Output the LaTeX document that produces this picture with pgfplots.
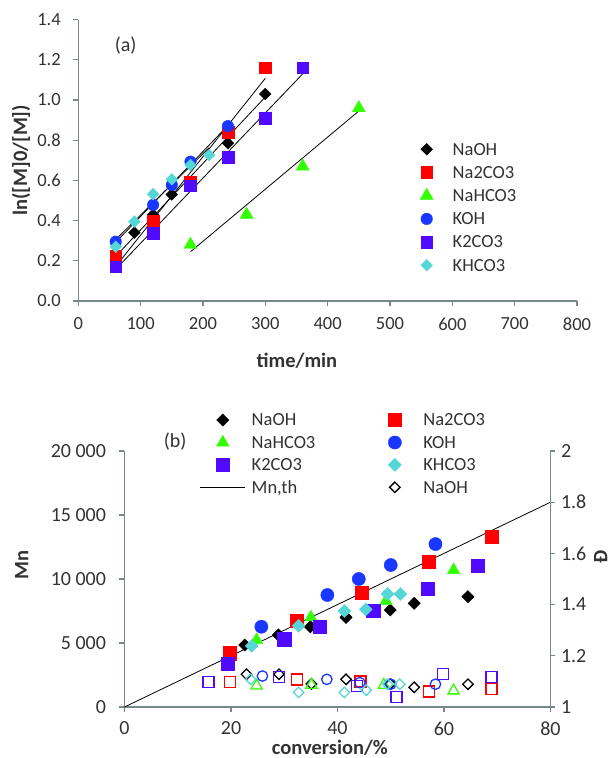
\documentclass[border=0pt]{standalone}
\usepackage{fontspec}
\setmainfont{Carlito}
\usepackage{pgfplots}
\pgfplotsset{compat=1.18}
\definecolor{axgray}{RGB}{120,135,135}
\definecolor{txt}{RGB}{50,50,50}
\definecolor{cred}{RGB}{255,0,0}
\definecolor{cgreen}{RGB}{51,255,0}
\definecolor{cblue}{RGB}{25,55,255}
\definecolor{cpurple}{RGB}{80,10,255}
\definecolor{ccyan}{RGB}{85,215,215}
\pgfplotsset{
  every axis/.append style={font=\fontsize{18.5}{22}\selectfont, /pgf/number format/assume math mode=true,
    axis line style={axgray, line width=1.2pt, -}, tick style={axgray, line width=1.2pt},
    tick align=outside, major tick length=5pt, scale only axis,
    ticklabel style={text=txt}, label style={text=txt, font=\fontsize{20.5}{24}\selectfont\bfseries}},
}
\begin{document}
\begin{tikzpicture}
\useasboundingbox (0,0) rectangle (612pt,758pt);
% ---------------- (a) ----------------
\begin{axis}[
  at={(78.3pt,457pt)}, anchor=south west, width=498.7pt, height=281.4pt,
  xmin=0, xmax=800, ymin=0, ymax=1.4,
  xtick={0,100,200,300,400,500,600,700,800},
  ytick={0,0.2,0.4,0.6,0.8,1.0,1.2,1.4},
  yticklabel style={xshift=-9pt, /pgf/number format/.cd, fixed, fixed zerofill, precision=1},
  xticklabel style={yshift=-8pt},
  axis x line*=bottom, axis y line*=left,
  xlabel={time/min}, ylabel={ln([M]0/[M])},
  xlabel style={at={(axis description cs:0.4385,-0.213)}, anchor=center},
  ylabel style={at={(axis description cs:-0.115,0.5)}, anchor=center},
  clip=false,
  legend cell align=left,
  legend image code/.code={\path[draw=none,fill=none] (0pt,-4pt) rectangle (40pt,4pt); \draw[mark repeat=2,mark phase=2] plot coordinates {(0pt,0pt) (20pt,0pt) (40pt,0pt)};},
  legend style={draw=none, fill=none, inner sep=0pt, outer sep=0pt, at={(axis description cs:0.6585,0.5675)}, anchor=north west,
    row sep=7.2pt, nodes={inner xsep=6pt, inner ysep=0pt, text height=13.8pt, text depth=2.2pt, text=txt}},
]
\addplot[only marks, mark=square*, mark size=4.14pt, mark options={rotate=45, draw=black, fill=black}] coordinates {(60,0.20) (90,0.34) (120,0.43) (150,0.53) (240,0.785) (300,1.03)};
\addlegendentry{NaOH}
\addplot[only marks, mark=square*, mark size=5.85pt, mark options={draw=cred, fill=cred}] coordinates {(60,0.225) (120,0.40) (180,0.59) (240,0.84) (300,1.16)};
\addlegendentry{Na2CO3}
\addplot[only marks, mark=triangle*, mark size=7.5pt, mark options={draw=cgreen, fill=cgreen}] coordinates {(180,0.28) (270,0.43) (360,0.67) (450,0.96)};
\addlegendentry{NaHCO3}
\addplot[only marks, mark=*, mark size=5.8pt, mark options={draw=cblue, fill=cblue}] coordinates {(60,0.295) (120,0.478) (150,0.577) (180,0.693) (240,0.87)};
\addlegendentry{KOH}
\addplot[only marks, mark=square*, mark size=5.85pt, mark options={draw=cpurple, fill=cpurple}] coordinates {(60,0.17) (120,0.337) (180,0.574) (240,0.715) (300,0.909) (360,1.16)};
\addlegendentry{K2CO3}
\addplot[only marks, mark=square*, mark size=4.14pt, mark options={rotate=45, draw=ccyan, fill=ccyan}] coordinates {(60,0.27) (90,0.395) (120,0.532) (150,0.605) (180,0.677) (210,0.726)};
\addlegendentry{KHCO3}
% trend lines
\addplot[black, line width=0.8pt, no marks, forget plot] coordinates {(60,0.222) (300,1.015)};
\addplot[black, line width=0.8pt, no marks, forget plot] coordinates {(60,0.172) (300,1.108)};
\addplot[black, line width=0.8pt, no marks, forget plot] coordinates {(180,0.245) (450,0.945)};
\addplot[black, line width=0.8pt, no marks, forget plot] coordinates {(60,0.292) (240,0.873)};
\addplot[black, line width=0.8pt, no marks, forget plot] coordinates {(60,0.158) (360,1.130)};
\addplot[black, line width=0.8pt, no marks, forget plot] coordinates {(60,0.306) (210,0.763)};
\node[text=txt, font=\fontsize{20}{24}\selectfont] at (axis cs:76,1.27) {(a)};
\end{axis}
% ---------------- (b) left ----------------
\begin{axis}[
  at={(124.5pt,51pt)}, anchor=south west, width=426pt, height=256pt,
  xmin=0, xmax=80, ymin=0, ymax=20000,
  xtick={0,20,40,60,80},
  ytick={0,5000,10000,15000,20000},
  yticklabels={0,5~000,10~000,15~000,20~000},
  scaled y ticks=false,
  ticklabel style={font=\fontsize{20}{24}\selectfont},
  xticklabel style={yshift=-6pt},
  yticklabel style={xshift=-10pt},
  axis x line*=bottom, axis y line*=left,
  xlabel={conversion/\%}, ylabel={Mn},
  xlabel style={at={(axis description cs:0.482,-0.158)}, anchor=center},
  ylabel style={at={(axis description cs:-0.241,0.555)}, anchor=center},
  clip=false,
  legend columns=2,
  legend cell align=left,
  legend image code/.code={\path[draw=none,fill=none] (0pt,-4pt) rectangle (45pt,4pt); \draw[mark repeat=2,mark phase=2] plot coordinates {(0pt,0pt) (22.5pt,0pt) (45pt,0pt)};},
  legend style={draw=none, fill=none, inner sep=0pt, outer sep=0pt, at={(axis description cs:0.177,1.152)}, anchor=north west,
    row sep=6.4pt, nodes={inner xsep=6pt, inner ysep=0pt, text height=13.8pt, text depth=2.2pt, text=txt},
    /tikz/every even column/.append style={column sep=51pt}},
]
\addplot[only marks, mark=square*, mark size=4.35pt, mark options={rotate=45, draw=black, fill=black}] coordinates {(22.6,4840) (28.9,5625) (34.9,6270) (41.6,7000) (49.9,7580) (54.4,8100) (64.5,8620)};
\addlegendentry{NaOH}
\addplot[only marks, mark=square*, mark size=6.6pt, mark options={draw=cred, fill=cred}] coordinates {(19.8,4200) (32.4,6720) (44.5,8960) (57.2,11350) (68.9,13300)};
\addlegendentry{Na2CO3}
\addplot[only marks, mark=triangle*, mark size=7.2pt, mark options={draw=cgreen, fill=cgreen}] coordinates {(24.8,5230) (35.0,7000) (49.1,8280) (61.8,10700)};
\addlegendentry{NaHCO3}
\addplot[only marks, mark=*, mark size=6.6pt, mark options={draw=cblue, fill=cblue}] coordinates {(25.7,6270) (38.1,8750) (44.0,10000) (50.0,11090) (58.4,12730)};
\addlegendentry{KOH}
\addplot[only marks, mark=square*, mark size=6.6pt, mark options={draw=cpurple, fill=cpurple}] coordinates {(19.4,3360) (30.0,5290) (36.6,6270) (46.7,7500) (56.9,9270) (66.3,11020)};
\addlegendentry{K2CO3}
\addplot[only marks, mark=square*, mark size=4.6pt, mark options={rotate=45, draw=ccyan, fill=ccyan}] coordinates {(23.9,4770) (32.7,6350) (41.3,7500) (45.3,7630) (49.4,8830) (51.8,8830)};
\addlegendentry{KHCO3}
\addplot[black, line width=0.8pt, no marks] coordinates {(0,0) (80,16000)};
\addlegendentry{Mn,th}
\addlegendimage{only marks, mark=square, mark size=3.7pt, mark options={rotate=45, draw=black, line width=1.3pt}}
\addlegendentry{NaOH}
\node[text=txt, font=\fontsize{20}{24}\selectfont] at (axis cs:9.5,20700) {(b)};
\end{axis}
% ---------------- (b) right ----------------
\begin{axis}[
  at={(124.5pt,51pt)}, anchor=south west, width=426pt, height=256pt,
  xmin=0, xmax=80, ymin=1, ymax=2,
  ytick={1,1.2,1.4,1.6,1.8,2}, yticklabels={1,1.2,1.4,1.6,1.8,2},
  ticklabel style={font=\fontsize{20}{24}\selectfont},
  yticklabel style={xshift=2pt},
  axis y line*=right, axis x line=none,
  ylabel={Đ},
  ylabel style={at={(axis description cs:1.118,0.586)}, anchor=center},
  clip=false,
]
\addplot[only marks, mark=square, mark size=3.7pt, mark options={rotate=45, draw=black, line width=1.3pt}] coordinates {(22.9,1.128) (29.0,1.128) (35.1,1.09) (41.6,1.108) (49.9,1.09) (54.4,1.077) (64.5,1.089)};
\addplot[only marks, mark=square, mark size=5.5pt, mark options={draw=cred, line width=1.3pt}] coordinates {(19.8,1.097) (32.4,1.108) (44.3,1.10) (57.2,1.06) (68.9,1.069)};
\addplot[only marks, mark=triangle, mark size=6.5pt, mark options={draw=cgreen, line width=1.3pt}] coordinates {(24.8,1.083) (35.1,1.086) (48.7,1.086) (61.8,1.064)};
\addplot[only marks, mark=o, mark size=5.2pt, mark options={draw=cblue, line width=1.3pt}] coordinates {(25.9,1.121) (38.0,1.108) (44.2,1.095) (50.0,1.089) (58.4,1.089)};
\addplot[only marks, mark=square, mark size=5.5pt, mark options={draw=cpurple, line width=1.3pt}] coordinates {(15.8,1.097) (29.0,1.118) (43.7,1.082) (51.1,1.038) (59.8,1.129) (68.9,1.118)};
\addplot[only marks, mark=square, mark size=3.7pt, mark options={rotate=45, draw=ccyan, line width=1.3pt}] coordinates {(23.7,1.108) (32.7,1.057) (41.3,1.057) (45.4,1.066) (49.4,1.089) (51.7,1.089)};
\end{axis}
\end{tikzpicture}
\end{document}
